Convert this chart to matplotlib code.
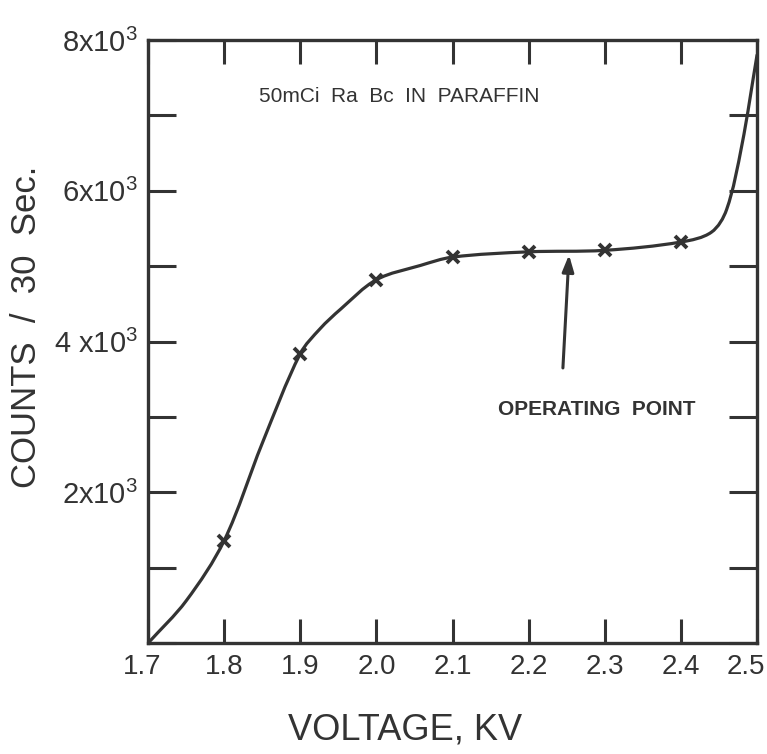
import numpy as np
import matplotlib.pyplot as plt
import matplotlib.transforms as mtransforms
from matplotlib.path import Path
from matplotlib.patches import PathPatch

plt.rcParams['font.family'] = ['Liberation Sans', 'DejaVu Sans']
plt.rcParams['mathtext.fontset'] = 'custom'
plt.rcParams['mathtext.rm'] = 'Liberation Sans'

INK = '#333333'

# measured points (voltage in kV, counts per 30 s)
volts = [1.8, 1.9, 2.0, 2.1, 2.2, 2.3, 2.4]
counts = [1360, 3840, 4820, 5120, 5190, 5210, 5320]

# points along the drawn plateau curve
curve_volts = [1.70, 1.75, 1.80, 1.85, 1.90, 1.926, 1.953, 2.00,
               2.058, 2.10, 2.20, 2.30, 2.40, 2.44, 2.46, 2.48, 2.50]
curve_counts = [0, 560, 1360, 2650, 3840, 4170, 4430, 4820,
                5010, 5120, 5190, 5210, 5320, 5450, 5750, 6600, 7800]

xtick_vals = [1.7, 1.8, 1.9, 2.0, 2.1, 2.2, 2.3, 2.4, 2.5]
xtick_text = ['1.7', '1.8', '1.9', '2.0', '2.1', '2.2', '2.3', '2.4', '2.5']
ytick_vals = [0, 1000, 2000, 3000, 4000, 5000, 6000, 7000, 8000]
ytick_text = ['', '', '2x10$^3$', '', '4 x10$^3$', '', '6x10$^3$', '', '8x10$^3$']


def smooth_path(xs, ys, xspan, yspan):
    # Catmull-Rom style bezier through the points, chord-length weighted
    p = np.column_stack([(np.array(xs) - xs[0]) / xspan, np.array(ys) / yspan])
    d = np.linalg.norm(np.diff(p, axis=0), axis=1)
    m = np.zeros_like(p)
    m[0] = (p[1] - p[0]) / d[0]
    m[-1] = (p[-1] - p[-2]) / d[-1]
    for i in range(1, len(p) - 1):
        m[i] = (p[i + 1] - p[i - 1]) / (d[i - 1] + d[i])
    verts = [p[0]]
    codes = [Path.MOVETO]
    for i in range(len(p) - 1):
        verts += [p[i] + m[i] * d[i] / 3, p[i + 1] - m[i + 1] * d[i] / 3, p[i + 1]]
        codes += [Path.CURVE4] * 3
    verts = np.array(verts)
    verts[:, 0] = verts[:, 0] * xspan + xs[0]
    verts[:, 1] = verts[:, 1] * yspan
    return Path(verts, codes)


fig = plt.figure(figsize=(7.67, 7.54), dpi=100)
ax = fig.add_axes([0.193, 0.147, 0.794, 0.80])

curve = smooth_path(curve_volts, curve_counts, 0.8, 8000)
ax.add_patch(PathPatch(curve, fill=False, edgecolor=INK, lw=2.3,
                       capstyle='round', joinstyle='round'))
ax.plot(volts, counts, linestyle='none', marker='x', color=INK,
        markersize=9, markeredgewidth=2.8)

ax.set_xlim(1.7, 2.5)
ax.set_ylim(0, 8000)
ax.set_xticks(xtick_vals)
ax.set_xticklabels(xtick_text)
ax.set_yticks(ytick_vals)
ax.set_yticklabels(ytick_text)

for s in ax.spines.values():
    s.set_linewidth(2.4)
    s.set_color(INK)
ax.tick_params(axis='x', direction='in', length=17, width=2.2, color=INK,
               top=True, labelsize=20, labelcolor=INK, pad=8)
ax.tick_params(axis='y', direction='in', length=20, width=2.2, color=INK,
               right=True, labelsize=21, labelcolor=INK, pad=7)

# pull the outer tick labels slightly in so they stay on the page
ticklabels = ax.get_xticklabels()
ticklabels[-1].set_transform(ticklabels[-1].get_transform() +
                             mtransforms.ScaledTranslation(-0.11, 0, fig.dpi_scale_trans))
ticklabels[0].set_transform(ticklabels[0].get_transform() +
                            mtransforms.ScaledTranslation(-0.06, 0, fig.dpi_scale_trans))

ax.text(2.03, 7250, '50mCi  Ra  Bc  IN  PARAFFIN', ha='center', va='center',
        fontsize=15, color=INK)

ax.annotate('', xy=(2.253, 5150), xytext=(2.245, 3650),
            arrowprops=dict(arrowstyle='-|>,head_length=1.0,head_width=0.35',
                            color=INK, lw=2.2, shrinkA=0, shrinkB=0))
ax.text(2.29, 3100, 'OPERATING  POINT', ha='center', va='center',
        fontsize=15, fontweight='bold', color=INK)

fig.text(0.528, 0.032, 'VOLTAGE, KV', ha='center', va='center',
         fontsize=26, color=INK)
fig.text(0.034, 0.567, 'COUNTS  /  30  Sec.', ha='center', va='center',
         rotation=90, fontsize=25, color=INK)

fig.savefig('out.png', dpi=100, facecolor='white')
